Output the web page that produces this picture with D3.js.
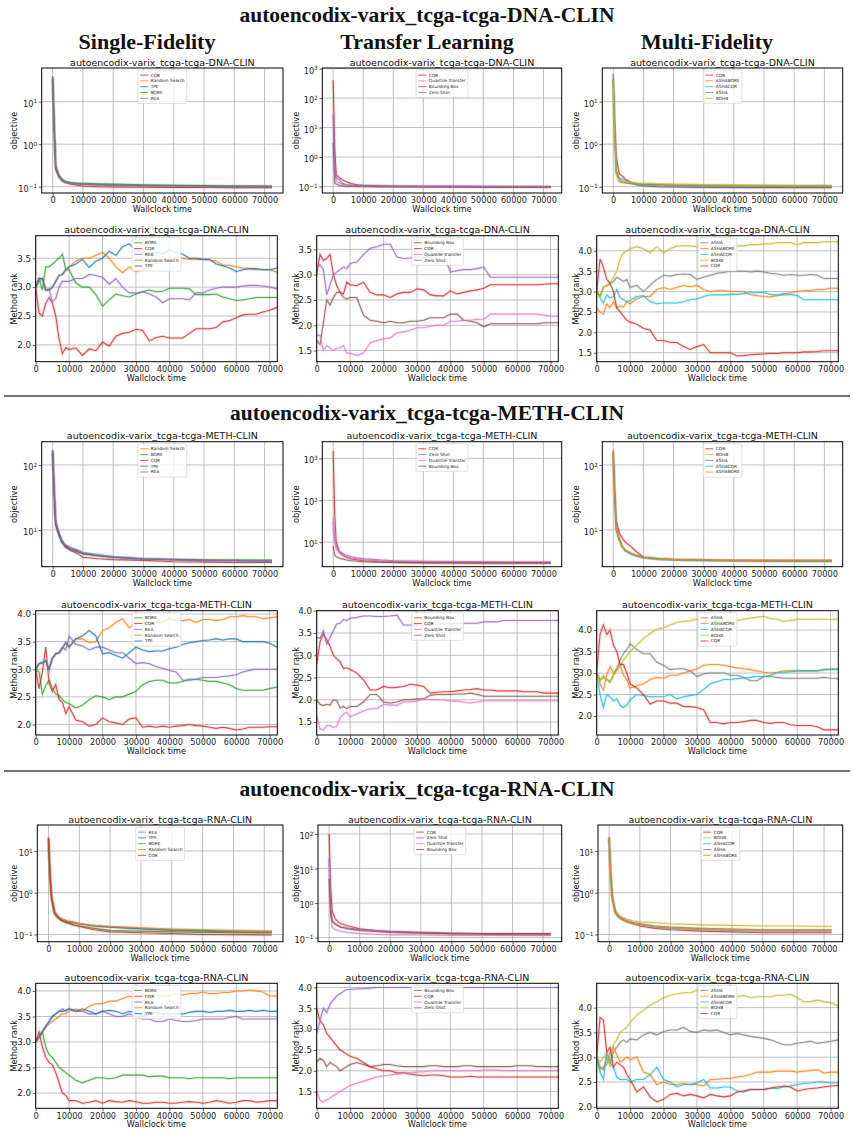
<!DOCTYPE html>
<html>
<head>
<meta charset="utf-8">
<script src="https://cdn.jsdelivr.net/npm/d3@7"></script>
<style>
  body { margin: 0; background: #fff; }
  text { font-family: "DejaVu Sans", sans-serif; }
  .serif { font-family: "Liberation Serif", "DejaVu Serif", serif; font-weight: bold; }
</style>
</head>
<body>
<svg id="fig" width="854" height="1135"></svg>
<script>
'use strict';

// ---- time grids (x values shared by all series of a panel kind) ----
var tObj = [0, 500, 1000, 2000, 3000, 4000, 6000, 8000, 10000, 15000, 20000, 30000, 40000, 50000, 60000, 72450];
var tRank = [0, 1000, 2000, 3000, 4000, 5000, 6000, 7000, 8000, 9000, 10000, 12000, 14000, 16000, 18000, 20000,
  22000, 24000, 26000, 28000, 30000, 32000, 34000, 36000, 38000, 40000, 42000, 44000, 46000, 48000, 50000,
  52000, 54000, 56000, 58000, 60000, 62000, 64000, 66000, 68000, 70000, 72300];

var sectionTitles = ['autoencodix-varix_tcga-tcga-DNA-CLIN', 'autoencodix-varix_tcga-tcga-METH-CLIN', 'autoencodix-varix_tcga-tcga-RNA-CLIN'];
var columnTitles = ['Single-Fidelity', 'Transfer Learning', 'Multi-Fidelity'];

// ---- DNA ----
var dnaObjSF = {
  'CQR':           [35, 2.0, 0.25, 0.17, 0.14, 0.125, 0.115, 0.108, 0.104, 0.1, 0.098, 0.097, 0.096, 0.096, 0.095, 0.095],
  'Random Search': [38, 2.5, 0.3, 0.19, 0.15, 0.13, 0.122, 0.118, 0.115, 0.112, 0.11, 0.107, 0.104, 0.102, 0.1, 0.1],
  'TPE':           [40, 3, 0.3, 0.18, 0.145, 0.13, 0.12, 0.117, 0.115, 0.112, 0.11, 0.107, 0.105, 0.103, 0.101, 0.1],
  'BORE':          [33, 2.2, 0.28, 0.18, 0.15, 0.135, 0.125, 0.122, 0.12, 0.117, 0.115, 0.111, 0.108, 0.106, 0.105, 0.104],
  'REA':           [36, 2.4, 0.3, 0.19, 0.15, 0.13, 0.12, 0.116, 0.113, 0.11, 0.108, 0.105, 0.103, 0.101, 0.1, 0.1]
};
var dnaObjTL = {
  'CQR':               [400, 2, 0.25, 0.2, 0.17, 0.15, 0.125, 0.115, 0.11, 0.105, 0.1, 0.098, 0.097, 0.096, 0.095, 0.094],
  'Quantile Transfer': [30, 0.5, 0.15, 0.13, 0.12, 0.115, 0.11, 0.108, 0.106, 0.104, 0.102, 0.1, 0.099, 0.098, 0.097, 0.097],
  'Bounding Box':      [3, 0.13, 0.12, 0.11, 0.105, 0.1, 0.1, 0.099, 0.098, 0.097, 0.097, 0.096, 0.096, 0.095, 0.095, 0.095],
  'Zero Shot':         [25, 0.4, 0.2, 0.17, 0.13, 0.115, 0.11, 0.108, 0.107, 0.106, 0.105, 0.104, 0.103, 0.101, 0.1, 0.1]
};
var dnaObjMF = {
  'CQR':      [35, 3, 0.5, 0.2, 0.18, 0.15, 0.125, 0.11, 0.105, 0.1, 0.098, 0.096, 0.095, 0.095, 0.095, 0.095],
  'ASHABORE': [30, 1.5, 0.2, 0.13, 0.125, 0.12, 0.118, 0.115, 0.113, 0.11, 0.108, 0.106, 0.105, 0.104, 0.104, 0.104],
  'ASHACQR':  [32, 1.8, 0.22, 0.16, 0.15, 0.14, 0.12, 0.113, 0.108, 0.104, 0.102, 0.1, 0.1, 0.1, 0.1, 0.1],
  'ASHA':     [45, 2, 0.25, 0.15, 0.13, 0.125, 0.12, 0.117, 0.115, 0.112, 0.11, 0.107, 0.105, 0.104, 0.103, 0.103],
  'BOHB':     [33, 1.6, 0.2, 0.14, 0.13, 0.128, 0.125, 0.122, 0.12, 0.117, 0.115, 0.112, 0.11, 0.109, 0.108, 0.108]
};
var dnaRankSF = {
  'BORE': [3.0, 3.15, 2.95, 3.35, 3.35, 3.4, 3.45, 3.5, 3.57, 3.3, 3.3, 3.07, 3.0, 3.0, 2.87, 2.67, 2.78, 2.88, 2.85, 2.83, 2.88,
    2.92, 2.95, 2.92, 2.93, 2.98, 2.98, 2.98, 2.97, 2.87, 2.87, 2.87, 2.88, 2.83, 2.8, 2.77, 2.78, 2.8, 2.82, 2.82, 2.82, 2.82],
  'CQR': [3.0, 2.55, 2.5, 2.72, 2.82, 2.72, 2.5, 2.1, 1.85, 1.95, 1.92, 1.95, 1.82, 1.93, 1.9, 2.05, 1.98, 2.15, 2.2, 2.22, 2.27,
    2.25, 2.07, 2.13, 2.15, 2.12, 2.12, 2.12, 2.2, 2.28, 2.28, 2.28, 2.3, 2.4, 2.42, 2.47, 2.52, 2.53, 2.53, 2.57, 2.6, 2.65],
  'REA': [3.0, 3.1, 3.15, 2.95, 2.97, 2.75, 2.8, 3.0, 3.1, 3.1, 3.1, 3.15, 3.15, 3.22, 3.2, 3.17, 3.05, 3.15, 3.0, 2.9, 2.9,
    2.92, 2.88, 2.83, 2.73, 2.8, 2.8, 2.8, 2.78, 2.9, 2.9, 2.95, 2.98, 3.0, 3.0, 3.0, 3.02, 3.03, 3.03, 3.02, 3.0, 2.97],
  'Random Search': [3.0, 3.15, 3.15, 2.95, 2.95, 3.0, 3.1, 3.2, 3.22, 3.3, 3.35, 3.45, 3.5, 3.5, 3.55, 3.6, 3.5, 3.35, 3.25, 3.35, 3.27,
    3.3, 3.35, 3.42, 3.45, 3.5, 3.52, 3.5, 3.48, 3.48, 3.48, 3.47, 3.45, 3.38, 3.38, 3.35, 3.33, 3.32, 3.3, 3.3, 3.3, 3.26],
  'TPE': [3.0, 3.15, 3.15, 2.95, 2.95, 3.0, 3.1, 3.2, 3.22, 3.3, 3.35, 3.4, 3.48, 3.34, 3.45, 3.5, 3.62, 3.55, 3.7, 3.75, 3.64,
    3.62, 3.58, 3.6, 3.58, 3.65, 3.6, 3.57, 3.5, 3.5, 3.48, 3.48, 3.4, 3.37, 3.33, 3.27, 3.3, 3.32, 3.32, 3.3, 3.3, 3.33]
};
var dnaRankTL = {
  'Bounding Box': [1.7, 1.62, 2.05, 2.5, 2.4, 2.55, 2.65, 2.65, 2.55, 2.52, 2.55, 2.55, 2.2, 2.1, 2.08, 2.05, 2.08, 2.05, 2.05, 2.08, 2.08,
    2.1, 2.15, 2.15, 2.15, 2.22, 2.22, 2.1, 2.08, 2.05, 1.97, 2.03, 2.03, 2.03, 2.03, 2.03, 2.03, 2.03, 2.03, 2.05, 2.05, 2.05],
  'CQR': [3.0, 3.4, 3.28, 3.32, 3.4, 3.0, 2.78, 2.65, 2.62, 2.85, 2.8, 2.78, 2.85, 2.65, 2.6, 2.6, 2.55, 2.62, 2.65, 2.65, 2.72,
    2.7, 2.6, 2.58, 2.58, 2.68, 2.62, 2.65, 2.68, 2.7, 2.73, 2.8, 2.8, 2.8, 2.8, 2.8, 2.8, 2.8, 2.8, 2.81, 2.82, 2.82],
  'Quantile Transfer': [1.8, 1.8, 1.5, 1.6, 1.55, 1.5, 1.55, 1.55, 1.6, 1.45, 1.45, 1.4, 1.45, 1.65, 1.7, 1.73, 1.75, 1.85, 1.87, 1.9, 1.95,
    1.95, 1.98, 2.0, 2.0, 2.08, 2.08, 2.1, 2.1, 2.12, 2.12, 2.22, 2.22, 2.22, 2.22, 2.22, 2.22, 2.22, 2.22, 2.2, 2.18, 2.18],
  'Zero Shot': [3.15, 3.2, 3.1, 2.6, 2.8, 3.0, 3.05, 3.1, 3.15, 3.12, 3.22, 3.25, 3.4, 3.52, 3.55, 3.6, 3.6, 3.35, 3.32, 3.33, 3.35,
    3.35, 3.35, 3.4, 3.4, 3.05, 3.08, 3.1, 3.1, 3.12, 3.15, 2.95, 2.95, 2.95, 2.95, 2.95, 2.95, 2.95, 2.95, 2.95, 2.95, 2.95]
};
var dnaRankMF = {
  'ASHA': [3.0, 2.9, 3.1, 3.15, 3.2, 3.25, 3.35, 3.3, 3.25, 3.3, 3.1, 3.15, 3.0, 3.15, 3.3, 3.4, 3.38, 3.42, 3.43, 3.42, 3.3,
    3.35, 3.4, 3.45, 3.47, 3.5, 3.5, 3.5, 3.48, 3.5, 3.48, 3.45, 3.43, 3.4, 3.42, 3.4, 3.4, 3.42, 3.4, 3.32, 3.32, 3.32],
  'ASHABORE': [2.6, 2.5, 2.45, 2.7, 2.6, 2.75, 2.6, 2.65, 2.62, 2.75, 2.7, 2.82, 2.88, 2.88, 3.05, 3.1, 3.05, 3.1, 3.15, 3.12, 3.15,
    3.05, 3.0, 3.02, 3.02, 3.0, 3.0, 3.0, 2.92, 2.9, 2.88, 2.87, 2.9, 2.95, 2.97, 3.0, 3.02, 3.03, 3.05, 3.05, 3.08, 3.08],
  'ASHACQR': [3.0, 2.85, 2.72, 2.92, 2.85, 2.88, 3.05, 2.85, 2.8, 2.75, 2.78, 2.88, 2.9, 2.75, 2.7, 2.72, 2.72, 2.72, 2.75, 2.8, 2.82,
    2.88, 2.92, 2.92, 2.92, 2.93, 2.93, 2.95, 2.97, 2.97, 2.98, 2.93, 2.92, 2.92, 2.93, 2.9, 2.8, 2.8, 2.8, 2.8, 2.8, 2.8],
  'BOHB': [3.0, 2.85, 3.1, 3.15, 3.2, 3.35, 3.5, 3.8, 3.95, 4.0, 4.05, 4.1, 4.05, 3.95, 4.1, 3.95, 4.05, 4.12, 4.12, 4.12, 4.1,
    4.05, 4.1, 4.12, 4.12, 4.1, 4.12, 4.12, 4.15, 4.15, 4.17, 4.17, 4.2, 4.2, 4.2, 4.15, 4.2, 4.2, 4.2, 4.22, 4.22, 4.22],
  'CQR': [3.0, 3.8, 3.6, 3.3, 3.2, 3.0, 2.6, 2.5, 2.4, 2.3, 2.25, 2.2, 2.1, 2.05, 1.8, 1.8, 1.75, 1.75, 1.65, 1.58, 1.65,
    1.7, 1.5, 1.5, 1.5, 1.5, 1.42, 1.43, 1.45, 1.46, 1.47, 1.48, 1.48, 1.5, 1.5, 1.5, 1.52, 1.52, 1.53, 1.55, 1.55, 1.55]
};

// ---- METH ----
var methObjSF = {
  'Random Search': [170, 40, 13, 9, 7, 6, 5.2, 4.8, 4.4, 4.0, 3.8, 3.6, 3.55, 3.45, 3.4, 3.35],
  'BORE':          [160, 35, 12, 8.5, 6.5, 5.8, 5.0, 4.6, 4.3, 4.0, 3.8, 3.6, 3.5, 3.45, 3.45, 3.45],
  'CQR':           [150, 30, 12, 8.5, 6.8, 5.5, 4.8, 4.4, 3.8, 3.6, 3.5, 3.4, 3.25, 3.2, 3.15, 3.15],
  'TPE':           [165, 40, 13, 9, 6.5, 5.8, 5.0, 4.8, 4.3, 4.0, 3.8, 3.55, 3.5, 3.4, 3.35, 3.3],
  'REA':           [170, 45, 14, 9.5, 7, 6, 5.3, 5.0, 4.5, 4.2, 3.9, 3.6, 3.5, 3.4, 3.35, 3.3]
};
var methObjTL = {
  'CQR':               [1500, 50, 10, 6, 5, 4.5, 4.0, 3.8, 3.6, 3.4, 3.3, 3.2, 3.2, 3.15, 3.15, 3.15],
  'Zero Shot':         [30, 12, 8, 6, 5.5, 5, 4.5, 4.2, 4, 3.8, 3.6, 3.5, 3.45, 3.4, 3.35, 3.35],
  'Quantile Transfer': [40, 10, 7, 5.5, 5, 4.6, 4.2, 4, 3.8, 3.6, 3.5, 3.4, 3.35, 3.3, 3.3, 3.3],
  'Bounding Box':      [8, 5, 4.5, 4.2, 4, 3.8, 3.6, 3.5, 3.4, 3.35, 3.3, 3.25, 3.2, 3.2, 3.2, 3.2]
};
var methObjMF = {
  'CQR':      [150, 40, 14, 9, 7.5, 6.5, 5.5, 4.5, 3.8, 3.6, 3.5, 3.4, 3.35, 3.3, 3.3, 3.3],
  'BOHB':     [160, 30, 10, 7, 5.5, 4.8, 4.3, 4.0, 3.8, 3.6, 3.5, 3.45, 3.4, 3.4, 3.35, 3.35],
  'ASHA':     [170, 35, 11, 7.5, 5.5, 4.8, 4.3, 4.0, 3.8, 3.6, 3.5, 3.45, 3.4, 3.4, 3.4, 3.4],
  'ASHACQR':  [150, 30, 10, 7, 5.5, 4.8, 4.2, 3.9, 3.7, 3.5, 3.45, 3.4, 3.35, 3.35, 3.3, 3.3],
  'ASHABORE': [160, 30, 10, 7, 5.5, 4.9, 4.4, 4.0, 3.8, 3.6, 3.5, 3.45, 3.4, 3.4, 3.4, 3.4]
};
var methRankSF = {
  'BORE': [3.0, 2.95, 2.55, 2.7, 2.8, 2.65, 2.55, 2.52, 2.45, 2.4, 2.38, 2.3, 2.35, 2.45, 2.52, 2.5, 2.45, 2.5, 2.5, 2.55, 2.6,
    2.72, 2.78, 2.8, 2.8, 2.75, 2.75, 2.78, 2.82, 2.82, 2.8, 2.78, 2.78, 2.75, 2.72, 2.65, 2.62, 2.62, 2.62, 2.62, 2.65, 2.68],
  'CQR': [3.0, 2.65, 2.95, 3.4, 2.75, 2.6, 2.72, 2.45, 2.4, 2.2, 2.32, 2.08, 2.05, 1.97, 2.0, 2.12, 2.05, 2.03, 2.0, 2.1, 2.12,
    1.95, 1.97, 1.95, 1.97, 1.95, 1.97, 1.98, 2.0, 1.98, 1.97, 1.95, 1.93, 1.95, 1.93, 1.9, 1.92, 1.95, 1.95, 1.95, 1.96, 1.96],
  'REA': [3.0, 3.1, 3.12, 3.15, 3.0, 3.2, 3.28, 3.3, 3.4, 3.35, 3.6, 3.45, 3.42, 3.35, 3.4, 3.4, 3.35, 3.3, 3.3, 3.2, 3.1,
    3.12, 3.1, 3.05, 3.02, 2.98, 2.95, 2.8, 2.8, 2.82, 2.85, 2.85, 2.85, 2.87, 2.88, 2.9, 2.95, 2.98, 3.0, 3.0, 3.0, 3.0],
  'Random Search': [3.0, 3.1, 3.12, 3.15, 3.0, 3.2, 3.28, 3.3, 3.38, 3.48, 3.4, 3.55, 3.55, 3.48, 3.5, 3.7, 3.75, 3.85, 3.92, 3.75, 3.85,
    3.85, 3.82, 3.85, 3.85, 3.92, 3.88, 3.88, 3.9, 3.85, 3.9, 3.9, 3.88, 3.9, 3.95, 3.95, 3.97, 3.95, 3.95, 3.92, 3.93, 3.95],
  'TPE': [3.0, 3.1, 3.12, 3.15, 3.0, 3.2, 3.28, 3.3, 3.38, 3.48, 3.4, 3.55, 3.6, 3.7, 3.6, 3.28, 3.3, 3.25, 3.2, 3.3, 3.4,
    3.35, 3.32, 3.33, 3.33, 3.37, 3.4, 3.45, 3.48, 3.5, 3.52, 3.53, 3.55, 3.53, 3.55, 3.55, 3.5, 3.5, 3.5, 3.5, 3.47, 3.4]
};
var methRankTL = {
  'Bounding Box': [2.0, 1.9, 1.87, 1.9, 1.88, 2.0, 1.98, 1.82, 1.85, 1.8, 1.85, 1.85, 1.95, 2.12, 2.12, 1.95, 1.93, 1.95, 2.0, 2.0, 2.02,
    2.02, 2.1, 2.12, 2.12, 2.12, 2.13, 2.13, 2.15, 2.12, 2.08, 2.08, 2.08, 2.08, 2.08, 2.08, 2.08, 2.08, 2.08, 2.08, 2.08, 2.08],
  'CQR': [2.8, 3.3, 3.48, 3.35, 3.2, 3.0, 2.92, 2.85, 2.7, 2.72, 2.68, 2.6, 2.45, 2.22, 2.22, 2.3, 2.27, 2.28, 2.3, 2.35, 2.33,
    2.3, 2.15, 2.17, 2.18, 2.18, 2.2, 2.22, 2.23, 2.25, 2.22, 2.22, 2.2, 2.2, 2.2, 2.2, 2.18, 2.18, 2.18, 2.15, 2.15, 2.15],
  'Quantile Transfer': [1.65, 1.35, 1.32, 1.42, 1.42, 1.38, 1.4, 1.6, 1.68, 1.72, 1.62, 1.68, 1.75, 1.8, 1.8, 1.9, 1.88, 1.88, 1.95, 1.95, 1.97,
    2.02, 2.0, 2.0, 2.0, 1.97, 1.97, 1.95, 1.93, 1.95, 1.98, 1.98, 1.98, 1.98, 1.98, 1.98, 1.98, 1.98, 1.98, 1.98, 1.98, 1.98],
  'Zero Shot': [3.4, 3.38, 3.55, 3.25, 3.4, 3.55, 3.7, 3.72, 3.8, 3.78, 3.83, 3.85, 3.88, 3.88, 3.87, 3.87, 3.88, 3.9, 3.68, 3.68, 3.68,
    3.68, 3.7, 3.7, 3.7, 3.7, 3.72, 3.72, 3.72, 3.72, 3.75, 3.75, 3.75, 3.78, 3.78, 3.78, 3.78, 3.78, 3.78, 3.78, 3.78, 3.78]
};
var methRankMF = {
  'ASHA': [3.0, 2.85, 2.9, 2.85, 2.8, 2.95, 3.1, 3.3, 3.45, 3.55, 3.68, 3.55, 3.45, 3.45, 3.25, 3.18, 3.08, 3.1, 3.1, 3.05, 2.92,
    2.98, 3.0, 3.0, 3.0, 2.95, 2.95, 2.9, 2.82, 2.82, 2.92, 2.92, 2.9, 2.88, 2.88, 2.88, 2.88, 2.88, 2.88, 2.9, 2.88, 2.87],
  'ASHABORE': [3.0, 2.75, 2.6, 2.95, 3.15, 3.0, 3.1, 3.2, 2.95, 2.85, 2.65, 2.7, 2.75, 2.85, 2.9, 2.88, 2.95, 2.95, 3.0, 3.05, 3.1,
    3.18, 3.2, 3.2, 3.18, 3.15, 3.12, 3.1, 3.08, 3.05, 3.02, 3.0, 3.02, 3.05, 3.05, 3.05, 3.05, 3.05, 3.05, 3.08, 3.1, 3.1],
  'ASHACQR': [3.0, 2.5, 2.2, 2.5, 2.45, 2.35, 2.4, 2.25, 2.2, 2.25, 2.38, 2.5, 2.48, 2.45, 2.45, 2.45, 2.5, 2.4, 2.45, 2.48, 2.5,
    2.62, 2.75, 2.8, 2.85, 2.85, 2.87, 2.88, 2.9, 2.92, 2.92, 2.95, 3.0, 3.02, 3.03, 3.05, 3.05, 3.05, 3.05, 3.08, 3.08, 3.08],
  'BOHB': [3.0, 2.8, 2.95, 2.85, 2.78, 2.95, 3.05, 3.15, 3.3, 3.4, 3.5, 3.65, 3.8, 3.92, 4.02, 4.05, 4.12, 4.18, 4.2, 4.22, 4.25,
    4.2, 4.2, 4.2, 4.22, 4.2, 4.22, 4.25, 4.28, 4.3, 4.32, 4.27, 4.25, 4.2, 4.22, 4.25, 4.25, 4.25, 4.25, 4.25, 4.25, 4.25],
  'CQR': [3.0, 3.9, 4.12, 3.9, 4.0, 3.65, 3.5, 3.2, 3.2, 3.0, 2.75, 2.65, 2.5, 2.28, 2.35, 2.35, 2.3, 2.3, 2.22, 2.22, 2.2,
    2.15, 1.85, 1.85, 1.82, 1.85, 1.85, 1.87, 1.9, 1.9, 1.85, 1.83, 1.85, 1.85, 1.8, 1.78, 1.78, 1.78, 1.75, 1.68, 1.68, 1.68]
};

// ---- RNA ----
var rnaObjSF = {
  'REA':           [22, 3, 0.9, 0.35, 0.28, 0.24, 0.21, 0.2, 0.18, 0.16, 0.15, 0.14, 0.13, 0.125, 0.12, 0.118],
  'TPE':           [20, 3, 0.8, 0.33, 0.27, 0.23, 0.2, 0.19, 0.18, 0.16, 0.15, 0.135, 0.125, 0.12, 0.115, 0.113],
  'BORE':          [20, 2.5, 0.7, 0.3, 0.25, 0.22, 0.19, 0.17, 0.16, 0.14, 0.125, 0.12, 0.115, 0.112, 0.11, 0.108],
  'Random Search': [21, 3, 0.85, 0.35, 0.28, 0.24, 0.21, 0.2, 0.18, 0.165, 0.155, 0.145, 0.135, 0.13, 0.125, 0.12],
  'CQR':           [20, 2.5, 0.7, 0.32, 0.26, 0.22, 0.19, 0.17, 0.155, 0.13, 0.115, 0.11, 0.105, 0.1, 0.098, 0.097]
};
var rnaObjTL = {
  'CQR':               [100, 3, 0.6, 0.35, 0.28, 0.25, 0.22, 0.2, 0.18, 0.16, 0.15, 0.14, 0.13, 0.125, 0.12, 0.12],
  'Zero Shot':         [20, 1, 0.3, 0.25, 0.22, 0.2, 0.19, 0.18, 0.17, 0.16, 0.15, 0.14, 0.135, 0.13, 0.13, 0.13],
  'Quantile Transfer': [15, 0.5, 0.2, 0.17, 0.16, 0.15, 0.14, 0.135, 0.13, 0.125, 0.12, 0.12, 0.115, 0.115, 0.115, 0.115],
  'Bounding Box':      [5, 0.5, 0.3, 0.25, 0.22, 0.2, 0.18, 0.17, 0.16, 0.15, 0.14, 0.135, 0.13, 0.13, 0.13, 0.13]
};
var rnaObjMF = {
  'CQR':      [20, 3, 0.8, 0.35, 0.28, 0.24, 0.2, 0.18, 0.16, 0.14, 0.13, 0.12, 0.115, 0.11, 0.11, 0.11],
  'BOHB':     [22, 3, 0.9, 0.38, 0.3, 0.26, 0.23, 0.21, 0.2, 0.19, 0.18, 0.17, 0.165, 0.16, 0.16, 0.155],
  'ASHACQR':  [20, 2.5, 0.7, 0.32, 0.26, 0.23, 0.2, 0.18, 0.17, 0.15, 0.14, 0.13, 0.125, 0.12, 0.12, 0.12],
  'ASHA':     [21, 2.8, 0.8, 0.35, 0.28, 0.24, 0.21, 0.19, 0.18, 0.16, 0.15, 0.14, 0.135, 0.13, 0.13, 0.13],
  'ASHABORE': [21, 2.8, 0.8, 0.33, 0.27, 0.23, 0.2, 0.18, 0.17, 0.155, 0.145, 0.135, 0.13, 0.125, 0.125, 0.125]
};
var rnaRankSF = {
  'BORE': [3.0, 3.1, 3.2, 2.9, 2.75, 2.7, 2.6, 2.5, 2.45, 2.4, 2.35, 2.25, 2.2, 2.25, 2.3, 2.3, 2.28, 2.3, 2.35, 2.35, 2.35,
    2.35, 2.32, 2.33, 2.33, 2.3, 2.3, 2.3, 2.28, 2.3, 2.3, 2.3, 2.3, 2.3, 2.28, 2.3, 2.3, 2.3, 2.3, 2.3, 2.3, 2.3],
  'CQR': [3.0, 3.2, 2.9, 2.7, 2.6, 2.55, 2.4, 2.2, 2.0, 1.95, 1.85, 1.85, 1.8, 1.82, 1.85, 1.8, 1.85, 1.83, 1.82, 1.85, 1.83,
    1.8, 1.8, 1.82, 1.82, 1.8, 1.8, 1.82, 1.83, 1.82, 1.8, 1.82, 1.85, 1.83, 1.8, 1.82, 1.85, 1.85, 1.82, 1.83, 1.85, 1.85],
  'REA': [3.0, 3.1, 3.2, 3.3, 3.4, 3.5, 3.55, 3.6, 3.65, 3.6, 3.65, 3.6, 3.6, 3.55, 3.55, 3.6, 3.55, 3.5, 3.5, 3.55, 3.5,
    3.45, 3.45, 3.4, 3.4, 3.45, 3.42, 3.4, 3.4, 3.42, 3.45, 3.45, 3.45, 3.45, 3.48, 3.5, 3.45, 3.45, 3.45, 3.45, 3.45, 3.45],
  'Random Search': [3.0, 3.1, 3.2, 3.3, 3.35, 3.4, 3.45, 3.5, 3.55, 3.55, 3.6, 3.65, 3.6, 3.7, 3.75, 3.75, 3.8, 3.8, 3.85, 3.9, 3.85,
    3.9, 3.9, 3.92, 3.9, 3.9, 3.95, 3.92, 3.95, 3.95, 3.98, 3.95, 3.95, 3.97, 3.97, 4.0, 4.0, 4.02, 4.0, 3.98, 3.9, 3.9],
  'TPE': [3.0, 3.1, 3.2, 3.3, 3.4, 3.5, 3.55, 3.6, 3.6, 3.62, 3.65, 3.6, 3.65, 3.6, 3.55, 3.6, 3.62, 3.6, 3.55, 3.6, 3.58,
    3.5, 3.55, 3.58, 3.55, 3.55, 3.55, 3.55, 3.58, 3.6, 3.6, 3.58, 3.6, 3.6, 3.62, 3.6, 3.6, 3.62, 3.6, 3.62, 3.6, 3.6]
};
var rnaRankTL = {
  'Bounding Box': [2.2, 2.3, 2.25, 2.1, 2.2, 2.15, 2.1, 2.0, 2.05, 2.1, 2.15, 2.2, 2.15, 2.1, 2.12, 2.15, 2.15, 2.12, 2.1, 2.1, 2.1,
    2.1, 2.12, 2.12, 2.1, 2.1, 2.1, 2.12, 2.12, 2.1, 2.1, 2.1, 2.1, 2.1, 2.1, 2.12, 2.12, 2.12, 2.1, 2.1, 2.1, 2.1],
  'CQR': [3.5, 3.2, 3.1, 2.9, 2.8, 2.7, 2.6, 2.5, 2.45, 2.4, 2.35, 2.3, 2.2, 2.1, 2.05, 2.0, 2.0, 1.95, 1.95, 1.92, 1.9,
    1.88, 1.9, 1.9, 1.88, 1.85, 1.85, 1.85, 1.87, 1.85, 1.85, 1.85, 1.85, 1.85, 1.85, 1.85, 1.85, 1.85, 1.85, 1.85, 1.85, 1.85],
  'Quantile Transfer': [1.5, 1.3, 1.25, 1.3, 1.35, 1.4, 1.45, 1.5, 1.55, 1.6, 1.65, 1.7, 1.75, 1.8, 1.85, 1.88, 1.9, 1.92, 1.95, 1.95, 1.97,
    1.97, 2.0, 2.0, 2.0, 2.0, 2.0, 2.0, 2.0, 2.0, 2.02, 2.02, 2.02, 2.0, 2.0, 2.0, 2.0, 2.0, 2.0, 2.0, 2.0, 2.0],
  'Zero Shot': [2.9, 3.2, 3.5, 3.4, 3.6, 3.7, 3.8, 3.85, 3.9, 3.95, 3.95, 3.97, 3.97, 3.98, 4.0, 4.0, 4.0, 4.0, 4.0, 4.0, 4.0,
    4.0, 4.0, 4.0, 4.0, 4.0, 4.0, 4.0, 4.0, 4.0, 4.0, 4.0, 4.0, 4.0, 4.0, 4.0, 4.0, 4.0, 4.0, 4.0, 4.0, 4.0]
};
var rnaRankMF = {
  'ASHA': [3.0, 2.8, 2.75, 3.0, 2.9, 3.1, 3.2, 3.3, 3.35, 3.3, 3.37, 3.35, 3.45, 3.5, 3.45, 3.52, 3.55, 3.55, 3.6, 3.52, 3.5,
    3.55, 3.53, 3.55, 3.5, 3.45, 3.48, 3.45, 3.42, 3.4, 3.38, 3.35, 3.3, 3.25, 3.25, 3.28, 3.3, 3.32, 3.28, 3.3, 3.32, 3.35],
  'ASHABORE': [3.0, 2.75, 2.8, 2.85, 3.1, 3.2, 3.05, 2.9, 2.95, 3.0, 2.95, 3.0, 2.7, 2.65, 2.45, 2.5, 2.45, 2.45, 2.47, 2.45, 2.45,
    2.42, 2.55, 2.55, 2.57, 2.57, 2.6, 2.62, 2.65, 2.7, 2.7, 2.7, 2.72, 2.72, 2.72, 2.7, 2.72, 2.73, 2.75, 2.68, 2.7, 2.7],
  'ASHACQR': [3.0, 2.7, 2.55, 3.1, 2.9, 2.8, 2.6, 2.55, 2.55, 2.55, 2.5, 2.55, 2.55, 2.65, 2.8, 2.55, 2.5, 2.4, 2.45, 2.45, 2.48,
    2.55, 2.38, 2.38, 2.4, 2.4, 2.32, 2.3, 2.35, 2.35, 2.35, 2.37, 2.37, 2.4, 2.42, 2.45, 2.47, 2.48, 2.5, 2.5, 2.48, 2.48],
  'BOHB': [3.0, 2.9, 3.0, 3.05, 2.8, 3.25, 3.35, 3.5, 3.55, 3.6, 3.7, 3.85, 3.95, 4.05, 4.12, 4.2, 4.25, 4.28, 4.3, 4.3, 4.35,
    4.3, 4.28, 4.25, 4.25, 4.25, 4.22, 4.25, 4.2, 4.22, 4.22, 4.22, 4.25, 4.25, 4.27, 4.2, 4.12, 4.12, 4.15, 4.12, 4.1, 4.03],
  'CQR': [3.0, 3.8, 3.75, 3.1, 3.2, 2.8, 2.9, 2.85, 2.8, 2.65, 2.55, 2.3, 2.4, 2.2, 2.1, 2.15, 2.25, 2.27, 2.22, 2.25, 2.22,
    2.18, 2.25, 2.22, 2.2, 2.22, 2.3, 2.32, 2.35, 2.35, 2.35, 2.38, 2.4, 2.42, 2.4, 2.32, 2.35, 2.37, 2.38, 2.4, 2.42, 2.43]
};

// ---- styling ----
var methodColor = {
  'CQR': '#d62728', 'Random Search': '#ff7f0e', 'TPE': '#1f77b4', 'BORE': '#2ca02c', 'REA': '#9467bd',
  'Bounding Box': '#8c564b', 'Quantile Transfer': '#e377c2', 'Zero Shot': '#9467bd',
  'ASHA': '#7f7f7f', 'ASHABORE': '#ff7f0e', 'ASHACQR': '#17becf', 'BOHB': '#bcbd22'
};

// panel layout (pixel boxes of the plot areas)
var colLeft = [0, 281.5, 561.5];
var objX = [[[41.7, 283], [322.3, 561.7], [602.3, 842.7]],
            [[41.7, 283], [322.3, 561.7], [602.3, 842.7]],
            [[37.3, 283], [318, 561.7], [598, 842.7]]];
var rankX = [[35.7, 277.3], [316.7, 558.3], [596.7, 838.3]];
var objY = [[68, 193], [441.7, 566.7], [825, 941.7]];
var rankY = [[235.7, 361.7], [610.7, 735], [983.3, 1108.3]];

var panels = [
  { s: 0, c: 0, kind: 'obj', data: dnaObjSF, dom: [0.071, 62] },
  { s: 0, c: 1, kind: 'obj', data: dnaObjTL, dom: [0.06, 1050] },
  { s: 0, c: 2, kind: 'obj', data: dnaObjMF, dom: [0.071, 62] },
  { s: 0, c: 0, kind: 'rank', data: dnaRankSF, dom: [1.71, 3.89] },
  { s: 0, c: 1, kind: 'rank', data: dnaRankTL, dom: [1.28, 3.77] },
  { s: 0, c: 2, kind: 'rank', data: dnaRankMF, dom: [1.28, 4.37] },
  { s: 1, c: 0, kind: 'obj', data: methObjSF, dom: [2.72, 228] },
  { s: 1, c: 1, kind: 'obj', data: methObjTL, dom: [2.6, 2500] },
  { s: 1, c: 2, kind: 'obj', data: methObjMF, dom: [2.72, 228] },
  { s: 1, c: 0, kind: 'rank', data: methRankSF, dom: [1.81, 4.06] },
  { s: 1, c: 1, kind: 'rank', data: methRankTL, dom: [1.21, 4.0] },
  { s: 1, c: 2, kind: 'rank', data: methRankMF, dom: [1.56, 4.45] },
  { s: 2, c: 0, kind: 'obj', data: rnaObjSF, dom: [0.067, 42] },
  { s: 2, c: 1, kind: 'obj', data: rnaObjTL, dom: [0.076, 182] },
  { s: 2, c: 2, kind: 'obj', data: rnaObjMF, dom: [0.067, 42] },
  { s: 2, c: 0, kind: 'rank', data: rnaRankSF, dom: [1.7, 4.15] },
  { s: 2, c: 1, kind: 'rank', data: rnaRankTL, dom: [1.1, 4.1] },
  { s: 2, c: 2, kind: 'rank', data: rnaRankMF, dom: [1.97, 4.49] }
];

var svg = d3.select('#fig');

// section titles, separators and column headers
var titleY = [22, 420, 796];
sectionTitles.forEach(function (t, i) {
  svg.append('text').attr('class', 'serif').attr('x', 427).attr('y', titleY[i])
    .attr('text-anchor', 'middle').attr('font-size', 21.5).attr('fill', '#111').text(t);
});
[396, 771].forEach(function (yy) {
  svg.append('line').attr('x1', 4).attr('x2', 850).attr('y1', yy).attr('y2', yy)
    .attr('stroke', '#444').attr('stroke-width', 1.5);
});
var colCenter = [147, 427, 707];
columnTitles.forEach(function (t, i) {
  svg.append('text').attr('class', 'serif').attr('x', colCenter[i]).attr('y', 49)
    .attr('text-anchor', 'middle').attr('font-size', 22).attr('fill', '#111').text(t);
});

var clipId = 0;
function drawPanel(p) {
  var isObj = p.kind === 'obj';
  var xr = isObj ? objX[p.s][p.c] : rankX[p.c];
  var yr = isObj ? objY[p.s] : rankY[p.s];
  var x = d3.scaleLinear().domain(isObj ? [-3625, 76075] : [0, 72300]).range(xr);
  var y = (isObj ? d3.scaleLog() : d3.scaleLinear()).domain(p.dom).range([yr[1], yr[0]]);
  var t = isObj ? tObj : tRank;
  var g = svg.append('g');

  var xt = d3.range(0, 70001, 10000);
  var yt;
  if (isObj) {
    yt = d3.range(Math.ceil(Math.log10(p.dom[0])), Math.floor(Math.log10(p.dom[1])) + 1).map(function (e) { return Math.pow(10, e); });
  } else {
    yt = d3.range(Math.ceil(p.dom[0] * 2) / 2, p.dom[1] + 1e-9, 0.5);
  }

  // grid
  g.selectAll('.gx').data(xt).join('line')
    .attr('x1', x).attr('x2', x).attr('y1', yr[0]).attr('y2', yr[1])
    .attr('stroke', '#b0b0b0').attr('stroke-width', 0.8);
  g.selectAll('.gy').data(yt).join('line')
    .attr('x1', xr[0]).attr('x2', xr[1]).attr('y1', y).attr('y2', y)
    .attr('stroke', '#b0b0b0').attr('stroke-width', 0.8);

  // series
  var cid = 'clip' + (clipId++);
  g.append('clipPath').attr('id', cid).append('rect')
    .attr('x', xr[0]).attr('y', yr[0]).attr('width', xr[1] - xr[0]).attr('height', yr[1] - yr[0]);
  var line = d3.line().x(function (d) { return x(d[0]); }).y(function (d) { return y(d[1]); });
  var names = Object.keys(p.data);
  var lg = g.append('g').attr('clip-path', 'url(#' + cid + ')');
  names.forEach(function (name) {
    var pts = p.data[name].slice(0, t.length).map(function (v, i) { return [t[i], v]; });
    lg.append('path').datum(pts).attr('d', line).attr('fill', 'none')
      .attr('stroke', methodColor[name]).attr('stroke-width', 3).attr('stroke-opacity', 0.15);
    lg.append('path').datum(pts).attr('d', line).attr('fill', 'none')
      .attr('stroke', methodColor[name]).attr('stroke-width', 1.1).attr('stroke-opacity', 0.8);
  });

  // frame
  g.append('rect').attr('x', xr[0]).attr('y', yr[0]).attr('width', xr[1] - xr[0]).attr('height', yr[1] - yr[0])
    .attr('fill', 'none').attr('stroke', '#000').attr('stroke-width', 1);

  // axes
  var ax = g.append('g').attr('transform', 'translate(0,' + yr[1] + ')')
    .call(d3.axisBottom(x).tickValues(xt).tickSize(3).tickPadding(1.5).tickFormat(d3.format('d')));
  var ay = g.append('g').attr('transform', 'translate(' + xr[0] + ',0)')
    .call(d3.axisLeft(y).tickValues(yt).tickSize(3).tickPadding(1.5).tickFormat(isObj ? function () { return '10'; } : d3.format('.1f')));
  [ax, ay].forEach(function (a) {
    a.select('.domain').remove();
    a.selectAll('text').attr('font-size', 8.2).attr('fill', '#222').attr('font-family', 'DejaVu Sans');
    a.selectAll('line').attr('stroke', '#222').attr('stroke-width', 0.7);
  });
  if (isObj) {
    // mathtext-like exponent: 10 with raised smaller power
    ay.selectAll('text').each(function (d) {
      var e = Math.round(Math.log10(d));
      d3.select(this).append('tspan').attr('dy', -3.3).attr('font-size', 5.8)
        .text(e < 0 ? '\u2212' + (-e) : String(e));
    });
    ay.selectAll('text').attr('dy', '0.55em');
  } else {
    ay.selectAll('text').attr('font-size', 8.8);
  }

  // labels
  g.append('text').attr('x', (xr[0] + xr[1]) / 2).attr('y', yr[0] - 2.5).attr('text-anchor', 'middle')
    .attr('font-size', 9.5).attr('fill', '#111').text(sectionTitles[p.s]);
  g.append('text').attr('x', (xr[0] + xr[1]) / 2).attr('y', yr[1] + 19).attr('text-anchor', 'middle')
    .attr('font-size', 8.2).attr('fill', '#111').text('Wallclock time');
  var lx = colLeft[p.c] + 14.5, ly = (yr[0] + yr[1]) / 2;
  g.append('text').attr('transform', 'translate(' + lx + ',' + ly + ') rotate(-90)')
    .attr('text-anchor', 'middle').attr('dy', '0.35em').attr('font-size', 8.2).attr('fill', '#111')
    .text(isObj ? 'objective' : 'Method rank');

  // legend (upper center)
  var fs = 4.3, rowH = 5.8, pad = 2.2, sample = 8;
  var leg = g.append('g');
  var box = leg.append('rect');
  var items = leg.selectAll('.li').data(names).join('g');
  items.append('line').attr('x1', 0).attr('x2', sample)
    .attr('y1', function (d, i) { return pad + rowH * i + rowH / 2; })
    .attr('y2', function (d, i) { return pad + rowH * i + rowH / 2; })
    .attr('stroke', function (d) { return methodColor[d]; }).attr('stroke-width', 1).attr('stroke-opacity', 0.8);
  items.append('text').attr('x', sample + 2.5)
    .attr('y', function (d, i) { return pad + rowH * i + rowH / 2; }).attr('dy', '0.35em')
    .attr('font-size', fs).attr('fill', '#222').text(function (d) { return d; });
  var maxW = 0;
  items.selectAll('text').each(function () { maxW = Math.max(maxW, this.getComputedTextLength()); });
  var w = sample + 2.5 + maxW + pad * 2, h = pad * 2 + rowH * names.length;
  items.attr('transform', 'translate(' + pad + ',0)');
  box.attr('width', w).attr('height', h).attr('rx', 1).attr('fill', '#fff').attr('fill-opacity', 0.8)
    .attr('stroke', '#ccc').attr('stroke-width', 0.6);
  leg.attr('transform', 'translate(' + ((xr[0] + xr[1]) / 2 - w / 2) + ',' + (yr[0] + 2) + ')');
}

panels.forEach(drawPanel);
</script>
</body>
</html>
